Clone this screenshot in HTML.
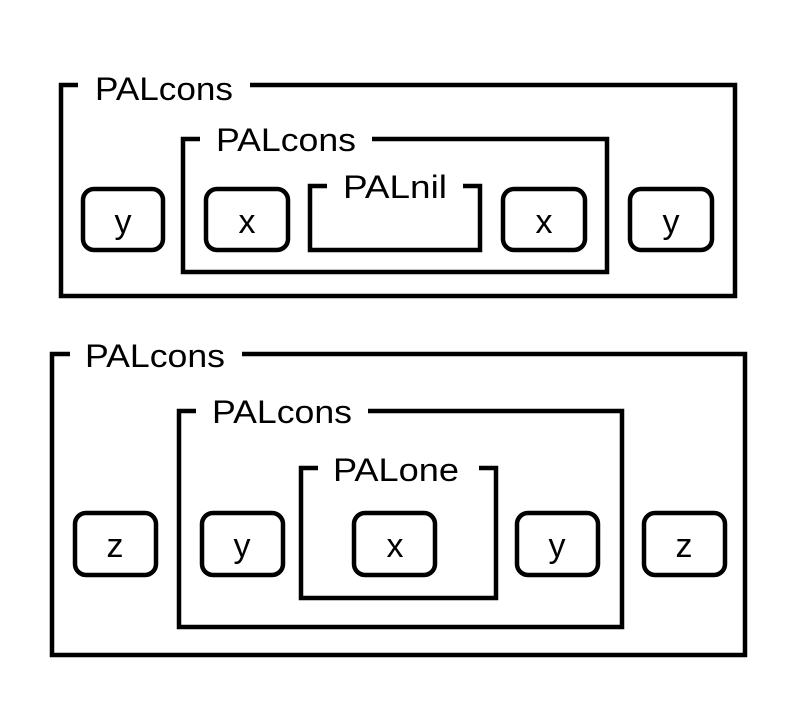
<!DOCTYPE html>
<html><head><style>body{margin:0;background:#fff}</style></head><body>
<svg width="800" height="705" xmlns="http://www.w3.org/2000/svg" font-family="Liberation Sans, sans-serif">
<g fill="none" stroke="#000" stroke-width="4.5">
<path d="M78,85 H61 V296 H735 V85 H250"/>
<path d="M200,139 H183 V272 H607 V139 H372"/>
<path d="M327,186 H310 V250 H480 V186 H463"/>
<rect x="83" y="189" width="80" height="61" rx="11"/>
<rect x="206" y="189" width="82" height="61" rx="11"/>
<rect x="503" y="189" width="82" height="61" rx="11"/>
<rect x="630" y="189" width="82" height="61" rx="11"/>
<path d="M70,354 H52 V655 H745 V354 H242"/>
<path d="M196,411 H179 V627 H622 V411 H368"/>
<path d="M318,468 H301 V598 H496 V468 H479"/>
<rect x="75" y="513" width="81" height="62" rx="11"/>
<rect x="202" y="513" width="81" height="62" rx="11"/>
<rect x="354" y="513" width="81" height="62" rx="11"/>
<rect x="517" y="513" width="81" height="62" rx="11"/>
<rect x="644" y="513" width="81" height="62" rx="11"/>
</g>
<g font-size="32" fill="#000">
<text x="95" y="100" textLength="138" lengthAdjust="spacingAndGlyphs">PALcons</text>
<text x="216" y="151" textLength="140" lengthAdjust="spacingAndGlyphs">PALcons</text>
<text x="343" y="198" textLength="104" lengthAdjust="spacingAndGlyphs">PALnil</text>
<text x="85" y="367" textLength="140" lengthAdjust="spacingAndGlyphs">PALcons</text>
<text x="212" y="423" textLength="140" lengthAdjust="spacingAndGlyphs">PALcons</text>
<text x="333" y="481" textLength="126" lengthAdjust="spacingAndGlyphs">PALone</text>
</g>
<g font-size="34" fill="#000" text-anchor="middle">
<text x="123" y="233">y</text>
<text x="247" y="233">x</text>
<text x="544" y="233">x</text>
<text x="671" y="233">y</text>
<text x="115" y="557">z</text>
<text x="242" y="557">y</text>
<text x="395" y="557">x</text>
<text x="557" y="557">y</text>
<text x="684" y="557">z</text>
</g>
</svg>
</body></html>
